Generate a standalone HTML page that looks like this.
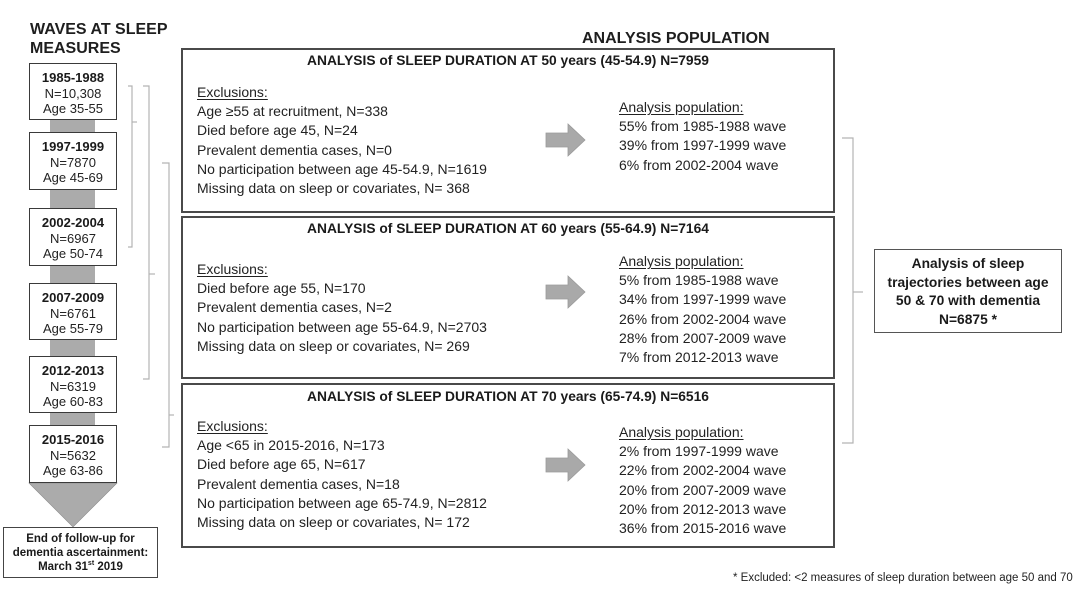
<!DOCTYPE html>
<html>
<head>
<meta charset="utf-8">
<style>
  html,body{margin:0;padding:0;background:#fff;}
  body{width:1080px;height:605px;position:relative;overflow:hidden;font-family:"Liberation Sans",Arial,sans-serif;color:#222;}
  .abs{position:absolute;}
  .h{font-weight:bold;font-size:16px;color:#1e1e1e;white-space:nowrap;}
  .wave{position:absolute;left:29px;border:1.6px solid #3a3a3a;background:#fff;text-align:center;font-size:13px;line-height:15.5px;color:#222;box-sizing:border-box;width:88px;}
  .wave b{color:#1a1a1a;}
  .conn{position:absolute;left:50px;width:45px;background:#ababab;}
  .box{position:absolute;left:181px;width:654px;border:2px solid #4a4a4a;box-sizing:border-box;}
  .title{position:absolute;left:181px;width:654px;text-align:center;font-weight:bold;font-size:13.8px;color:#1a1a1a;white-space:nowrap;line-height:18px;}
  .txt{position:absolute;font-size:14px;line-height:19.2px;white-space:nowrap;color:#222;}
  .txt u{text-decoration:underline;text-underline-offset:2px;}
</style>
</head>
<body>

<div class="abs h" style="left:30px;top:20px;line-height:19px;">WAVES AT SLEEP<br>MEASURES</div>
<div class="abs h" style="left:582px;top:30px;line-height:18px;">ANALYSIS POPULATION</div>

<!-- connectors -->
<div class="conn" style="top:119px;height:14px;"></div>
<div class="conn" style="top:189px;height:20px;"></div>
<div class="conn" style="top:265px;height:19px;"></div>
<div class="conn" style="top:339px;height:18px;"></div>
<div class="conn" style="top:412px;height:14px;"></div>

<svg class="abs" style="left:0;top:0;" width="1080" height="605">
  <polygon points="29,483 117,483 73,527" fill="#ababab" stroke="#8a8a8a" stroke-width="0.6"/>
  <g fill="none" stroke="#b3b3b3" stroke-width="1.2">
    <path d="M128,86 H132 V247 H128"/><path d="M132,122 H137"/>
    <path d="M143,86 H149 V379 H143"/><path d="M149,274 H155"/>
    <path d="M162,163 H169 V447 H162"/><path d="M169,415 H174"/>
    <path d="M842,138 H853 V443 H842"/><path d="M853,292 H863"/>
  </g>
  <g fill="#a9a9a9" stroke="#9a9a9a" stroke-width="0.8">
    <polygon points="546,133 568,133 568,124 585,140 568,156 568,147 546,147"/>
    <polygon points="546,285 568,285 568,276 585,292 568,308 568,299 546,299"/>
    <polygon points="546,458 568,458 568,449 585,465 568,481 568,472 546,472"/>
  </g>
</svg>

<!-- wave boxes -->
<div class="wave" style="top:63px;height:57px;padding-top:6px;"><b>1985-1988</b><br>N=10,308<br>Age 35-55</div>
<div class="wave" style="top:132px;height:58px;padding-top:6px;"><b>1997-1999</b><br>N=7870<br>Age 45-69</div>
<div class="wave" style="top:208px;height:58px;padding-top:6px;"><b>2002-2004</b><br>N=6967<br>Age 50-74</div>
<div class="wave" style="top:283px;height:57px;padding-top:6px;"><b>2007-2009</b><br>N=6761<br>Age 55-79</div>
<div class="wave" style="top:356px;height:57px;padding-top:6px;"><b>2012-2013</b><br>N=6319<br>Age 60-83</div>
<div class="wave" style="top:425px;height:58px;padding-top:6px;"><b>2015-2016</b><br>N=5632<br>Age 63-86</div>

<div class="abs" style="left:3px;top:527px;width:155px;height:51px;border:1.4px solid #444;box-sizing:border-box;text-align:center;font-weight:bold;font-size:11.5px;line-height:14px;padding-top:4px;color:#1a1a1a;">End of follow-up for<br>dementia ascertainment:<br>March 31<sup style="font-size:7px;line-height:0;">st</sup> 2019</div>

<!-- main boxes -->
<div class="box" style="top:48px;height:165px;"></div>
<div class="box" style="top:216px;height:163px;"></div>
<div class="box" style="top:383px;height:165px;"></div>

<div class="title" style="top:52px;">ANALYSIS of SLEEP DURATION AT 50 years (45-54.9) N=7959</div>
<div class="title" style="top:220px;">ANALYSIS of SLEEP DURATION AT 60 years (55-64.9) N=7164</div>
<div class="title" style="top:388px;">ANALYSIS of SLEEP DURATION AT 70 years (65-74.9) N=6516</div>

<div class="txt" style="left:197px;top:83px;"><u>Exclusions:</u><br>Age ≥55 at recruitment, N=338<br>Died before age 45, N=24<br>Prevalent dementia cases, N=0<br>No participation between age 45-54.9, N=1619<br>Missing data on sleep or covariates, N= 368</div>
<div class="txt" style="left:619px;top:98px;"><u>Analysis population:</u><br>55% from 1985-1988 wave<br>39% from 1997-1999 wave<br>6% from 2002-2004 wave</div>

<div class="txt" style="left:197px;top:260px;"><u>Exclusions:</u><br>Died before age 55, N=170<br>Prevalent dementia cases, N=2<br>No participation between age 55-64.9, N=2703<br>Missing data on sleep or covariates, N= 269</div>
<div class="txt" style="left:619px;top:252px;"><u>Analysis population:</u><br>5% from 1985-1988 wave<br>34% from 1997-1999 wave<br>26% from 2002-2004 wave<br>28% from 2007-2009 wave<br>7% from 2012-2013 wave</div>

<div class="txt" style="left:197px;top:417px;"><u>Exclusions:</u><br>Age &lt;65 in 2015-2016, N=173<br>Died before age 65, N=617<br>Prevalent dementia cases, N=18<br>No participation between age 65-74.9, N=2812<br>Missing data on sleep or covariates, N= 172</div>
<div class="txt" style="left:619px;top:423px;"><u>Analysis population:</u><br>2% from 1997-1999 wave<br>22% from 2002-2004 wave<br>20% from 2007-2009 wave<br>20% from 2012-2013 wave<br>36% from 2015-2016 wave</div>

<!-- final box -->
<div class="abs" style="left:874px;top:249px;width:188px;height:84px;border:1.4px solid #555;box-sizing:border-box;text-align:center;font-weight:bold;font-size:13.8px;line-height:18.6px;padding-top:5px;color:#1a1a1a;white-space:nowrap;">Analysis of sleep<br>trajectories between age<br>50 &amp; 70 with dementia<br>N=6875 *</div>

<div class="abs" style="left:733px;top:571px;font-size:11.5px;line-height:14px;white-space:nowrap;color:#222;">* Excluded: &lt;2 measures of sleep duration between age 50 and 70</div>

</body>
</html>
